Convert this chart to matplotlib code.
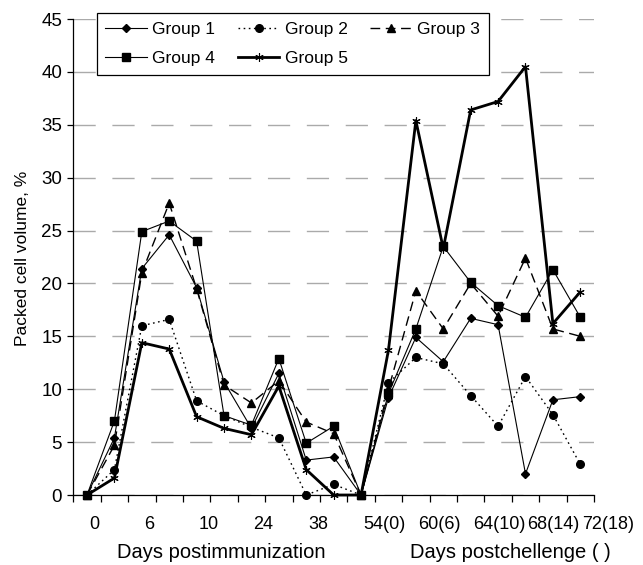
import numpy as np
import matplotlib
matplotlib.use('Agg')
import matplotlib.pyplot as plt
from matplotlib import font_manager
from matplotlib.transforms import ScaledTranslation

plt.rcParams['font.family'] = ['Liberation Sans', 'DejaVu Sans']

# category labels (every second category carries a label)
x_labels = ['0', '6', '10', '24', '38', '54(0)', '60(6)', '64(10)', '68(14)', '72(18)']

group1 = [0, 5.4, 21.4, 24.6, 19.6, 10.7, 6.3, 11.5, 3.3, 3.6, 0,
          9.2, 14.9, 12.6, 16.7, 16.1, 2.0, 9.0, 9.3]
group2 = [0, 2.4, 16.0, 16.6, 8.9, 7.5, 6.4, 5.4, 0, 1.0, 0,
          10.6, 13.0, 12.4, 9.4, 6.5, 11.2, 7.6, 2.9]
group3 = [0, 4.7, 21.0, 27.6, 19.5, 10.4, 8.7, 10.8, 6.9, 5.8, 0,
          10.0, 19.3, 15.7, 20.0, 16.9, 22.4, 15.7, 15.0]
group4 = [0, 7.0, 24.9, 25.9, 24.0, 7.5, 6.6, 12.9, 4.9, 6.5, 0,
          9.6, 15.7, 23.5, 20.1, 17.9, 16.8, 21.3, 16.8]
group5 = [0, 1.6, 14.4, 13.8, 7.4, 6.3, 5.7, 10.3, 2.4, 0, 0,
          13.7, 35.4, 23.3, 36.4, 37.2, 40.5, 16.2, 19.2]

n = len(group1)
x = np.arange(n)

fig = plt.figure(figsize=(6.43, 5.65), dpi=100)
ax = fig.add_axes([73.3 / 643, 70 / 565, 520.7 / 643, 476 / 565])

l1, = ax.plot(x, group1, color='black', lw=0.8, marker='D', ms=4,
              clip_on=False, zorder=3, label='Group 1')
l2, = ax.plot(x, group2, color='black', lw=1.0, ls=(0, (1.2, 2.5)), marker='o', ms=5.5,
              clip_on=False, zorder=3, label='Group 2')
l3, = ax.plot(x, group3, color='black', lw=1.0, ls=(0, (7, 4)), marker='^', ms=5.5,
              clip_on=False, zorder=3, label='Group 3')
l4, = ax.plot(x, group4, color='black', lw=0.8, marker='s', ms=5.5,
              clip_on=False, zorder=3, label='Group 4')
l5, = ax.plot(x, group5, color='black', lw=2.0, marker=(6, 2, 0), ms=6, mew=0.8,
              clip_on=False, zorder=3, label='Group 5')

ax.set_xlim(-0.5, n - 0.5)
ax.set_ylim(0, 45)
ax.set_yticks(np.arange(0, 46, 5))
ax.yaxis.grid(True, color='#aaaaaa', lw=1.0, ls=(0, (16, 12)))
ax.set_axisbelow(True)

for s in ['top', 'right']:
    ax.spines[s].set_visible(False)
for s in ['left', 'bottom']:
    ax.spines[s].set_linewidth(0.9)

# tick marks sit on category boundaries, labels on every other category
ax.set_xticks(x[::2])
ax.set_xticks(np.arange(-0.5, n, 1), minor=True)
ax.tick_params(axis='x', which='major', length=0, pad=15, labelsize=13)
ax.tick_params(axis='x', which='minor', length=5, width=0.9, direction='out')
ax.tick_params(axis='y', length=4, width=0.9, pad=4, labelsize=13.5)

narrow = [f.name for f in font_manager.fontManager.ttflist if f.name == 'Liberation Sans Narrow']
ax.set_xticklabels(x_labels)
for lab in ax.get_xticklabels():
    lab.set_ha('left')
    if narrow:
        lab.set_family(['Liberation Sans Narrow', 'Liberation Sans'])
    lab.set_transform(lab.get_transform() + ScaledTranslation(2 / 100, 0, fig.dpi_scale_trans))

xt = ax.get_xaxis_transform()
ax.text(4.9, -0.12, 'Days postimmunization', transform=xt, ha='center', va='center', fontsize=14.5)
ax.text(15.45, -0.12, 'Days postchellenge ( )', transform=xt, ha='center', va='center', fontsize=14.5)
fig.text(23 / 643, 1 - 258 / 565, 'Packed cell volume, %', rotation=90,
         ha='center', va='center', fontsize=12.5)

leg = ax.legend([l1, l4, l2, l5, l3], ['Group 1', 'Group 4', 'Group 2', 'Group 5', 'Group 3'],
                ncol=3, loc='upper left', bbox_to_anchor=(96.7 / 643, 1 - 13.3 / 565),
                bbox_transform=fig.transFigure, borderaxespad=0, fontsize=12.5,
                handlelength=2.4, handletextpad=0.3, columnspacing=1.3,
                labelspacing=0.8, borderpad=0.5, fancybox=False, framealpha=1)
leg.get_frame().set_edgecolor('black')
leg.get_frame().set_linewidth(0.9)
leg.set_zorder(5)

fig.savefig('out.png', dpi=100)
